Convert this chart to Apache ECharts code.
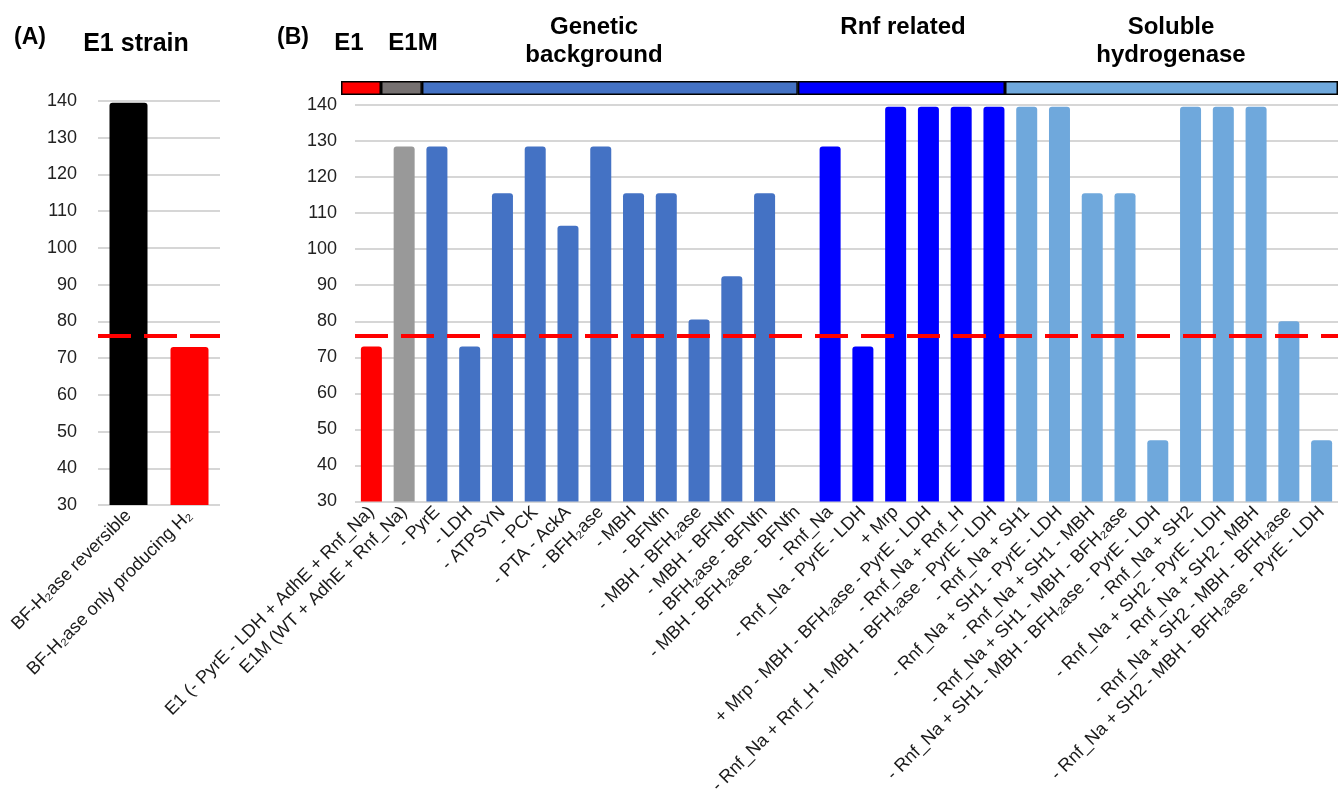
<!DOCTYPE html>
<html>
<head>
<meta charset="utf-8">
<script src="https://cdn.jsdelivr.net/npm/echarts@6/dist/echarts.min.js"></script>
<style>
html, body { margin: 0; padding: 0; background: #fff; }
#chart { width: 1342px; height: 797px; }
</style>
</head>
<body>
<div id="chart"></div>
<script>
// panel A - E1 strain
var strainLabels = ['BF-H₂ase reversible', 'BF-H₂ase only producing H₂'];
var strainValues = [139.5, 73];
var strainColors = ['#000000', '#ff0000'];

// panel B - mutants
var mutantLabels = [
  'E1 (- PyrE - LDH + AdhE + Rnf_Na)',
  'E1M (WT + AdhE + Rnf_Na)',
  '- PyrE',
  '- LDH',
  '- ATPSYN',
  '- PCK',
  '- PTA - AckA',
  '- BFH₂ase',
  '- MBH',
  '- BFNfn',
  '- MBH - BFH₂ase',
  '- MBH - BFNfn',
  '- BFH₂ase - BFNfn',
  '- MBH - BFH₂ase - BFNfn',
  '- Rnf_Na',
  '- Rnf_Na - PyrE - LDH',
  '+ Mrp',
  '+ Mrp - MBH - BFH₂ase - PyrE - LDH',
  '- Rnf_Na + Rnf_H',
  '- Rnf_Na + Rnf_H - MBH - BFH₂ase - PyrE - LDH',
  '- Rnf_Na + SH1',
  '- Rnf_Na + SH1 - PyrE - LDH',
  '- Rnf_Na + SH1 - MBH',
  '- Rnf_Na + SH1 - MBH - BFH₂ase',
  '- Rnf_Na + SH1 - MBH - BFH₂ase - PyrE - LDH',
  '- Rnf_Na + SH2',
  '- Rnf_Na + SH2 - PyrE - LDH',
  '- Rnf_Na + SH2 - MBH',
  '- Rnf_Na + SH2 - MBH - BFH₂ase',
  '- Rnf_Na + SH2 - MBH - BFH₂ase - PyrE - LDH'
];
var mutantValues = [
  73, 128.5, 128.5, 73, 115.5, 128.5, 106.5, 128.5, 115.5, 115.5,
  80.5, 92.5, 115.5, null, 128.5, 73, 139.5, 139.5, 139.5, 139.5,
  139.5, 139.5, 115.5, 115.5, 47, 139.5, 139.5, 139.5, 80, 47
];
var mutantGroup = [
  0, 1, 2, 2, 2, 2, 2, 2, 2, 2,
  2, 2, 2, 2, 3, 3, 3, 3, 3, 3,
  4, 4, 4, 4, 4, 4, 4, 4, 4, 4
];

// group band on top of panel B
var groupNames = ['E1', 'E1M', 'Genetic\nbackground', 'Rnf related', 'Soluble\nhydrogenase'];
var groupBarColors = ['#ff0000', '#999999', '#4472c4', '#0000ff', '#6fa8dc'];
var groupBandColors = ['#ff0000', '#767171', '#4472c4', '#0000ff', '#6fa8dc'];
var groupBandSpans = [1.22, 1.25, 11.47, 6.32, 10.16];

var threshold = 76;
var yMin = 30, yMax = 140, yStep = 10;

var font = 'Liberation Sans, Arial, sans-serif';

var chart = echarts.init(document.getElementById('chart'));

function valueAxis(gridIndex) {
  return {
    gridIndex: gridIndex,
    type: 'value',
    min: yMin,
    max: yMax,
    interval: yStep,
    axisLine: { show: false },
    axisTick: { show: false },
    axisLabel: { color: '#222', fontSize: 18, fontFamily: font, margin: gridIndex === 0 ? 21 : 18 },
    splitLine: { lineStyle: { color: '#c8c8c8', width: 1.5 } }
  };
}

function catAxis(gridIndex, labels) {
  return {
    gridIndex: gridIndex,
    type: 'category',
    data: labels,
    axisLine: { show: false },
    axisTick: { show: false },
    axisLabel: { interval: 0, rotate: 45, color: '#1a1a1a', fontSize: 18, fontFamily: font, margin: 8 }
  };
}

var dashLine = {
  silent: true,
  symbol: 'none',
  label: { show: false },
  lineStyle: { color: '#ff0000', width: 4, type: [33, 13] },
  data: [{ yAxis: threshold }]
};

var bandTotal = groupBandSpans.reduce(function (a, b) { return a + b; }, 0);

var series = [
  {
    type: 'bar',
    xAxisIndex: 0,
    yAxisIndex: 0,
    barWidth: 38,
    data: strainValues.map(function (v, i) {
      return { value: v, itemStyle: { color: strainColors[i], borderRadius: [3, 3, 0, 0] } };
    }),
    markLine: dashLine
  },
  {
    type: 'bar',
    xAxisIndex: 1,
    yAxisIndex: 1,
    barWidth: 21,
    data: mutantValues.map(function (v, i) {
      return { value: v == null ? '-' : v, itemStyle: { color: groupBarColors[mutantGroup[i]], borderRadius: [3, 3, 0, 0] } };
    }),
    markLine: dashLine
  }
];

groupBandSpans.forEach(function (s, i) {
  series.push({
    type: 'bar',
    xAxisIndex: 2,
    yAxisIndex: 2,
    stack: 'band',
    barWidth: '100%',
    silent: true,
    itemStyle: { color: groupBandColors[i], borderColor: '#000', borderWidth: 1.5 },
    data: [s]
  });
});

var titleStyle = { font: 'bold 24px ' + font, fill: '#000', textAlign: 'center', textVerticalAlign: 'middle', lineHeight: 28 };
function titleText(text, x, y, size) {
  var st = Object.assign({}, titleStyle, { text: text, x: x, y: y });
  if (size) st.font = 'bold ' + size + 'px ' + font;
  return { type: 'text', style: st };
}

chart.setOption({
  animation: false,
  grid: [
    { left: 98, width: 122, top: 101, height: 404 },
    { left: 355, right: 4, top: 105, height: 397 },
    { left: 341, width: 997, top: 81, height: 14 }
  ],
  xAxis: [
    catAxis(0, strainLabels),
    catAxis(1, mutantLabels),
    { gridIndex: 2, type: 'value', min: 0, max: bandTotal, show: false }
  ],
  yAxis: [
    valueAxis(0),
    valueAxis(1),
    { gridIndex: 2, type: 'category', data: ['group'], show: false }
  ],
  graphic: [
    titleText('(A)', 30, 38, 23),
    titleText('E1 strain', 136, 44, 25),
    titleText('(B)', 293, 38, 23),
    titleText(groupNames[0], 349, 43),
    titleText(groupNames[1], 413, 43),
    titleText(groupNames[2], 594, 41),
    titleText(groupNames[3], 903, 27),
    titleText(groupNames[4], 1171, 41)
  ],
  series: series
});
</script>
</body>
</html>
